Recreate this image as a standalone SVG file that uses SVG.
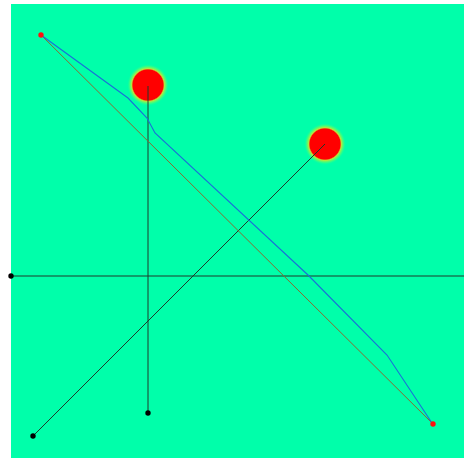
<svg xmlns="http://www.w3.org/2000/svg" width="464" height="460" viewBox="0 0 464 460">
<defs>
<radialGradient id="glow">
<stop offset="0" stop-color="#ff0000"/>
<stop offset="0.72" stop-color="#ff0000"/>
<stop offset="0.78" stop-color="#e8e020" stop-opacity="0.8"/>
<stop offset="0.88" stop-color="#80ff50" stop-opacity="0.45"/>
<stop offset="1" stop-color="#00ffaa" stop-opacity="0"/>
</radialGradient>
<style>
.ln{fill:none;stroke:#1e3a2a;stroke-width:1}
.dot{fill:#000}
.rdot{fill:#ff1010}
</style>
</defs>
<rect x="0" y="0" width="464" height="460" fill="#ffffff"/>
<rect x="11" y="4" width="453" height="454" fill="#00ffaa"/>
<g id="node-big1"><circle cx="148" cy="85" r="21" fill="url(#glow)"/></g>
<g id="node-big2"><circle cx="325" cy="144" r="21" fill="url(#glow)"/></g>
<g id="connectors">
<line class="ln" x1="11" y1="276" x2="464" y2="276"/>
<line class="ln" x1="148" y1="86" x2="148" y2="413"/>
<line class="ln" x1="325" y1="144" x2="33" y2="436"/>
<line x1="41" y1="35" x2="433" y2="424" stroke="#8a6a30" stroke-width="1"/>
<polyline points="41,35 128,98 147,118 155,133 308,275 387,355 432,423" fill="none" stroke="#1a70d8" stroke-width="1.1"/>
</g>
<g id="node-a"><circle class="rdot" cx="41" cy="35" r="2.7"/></g>
<g id="node-b"><circle class="rdot" cx="433" cy="424" r="2.7"/></g>
<g id="node-c"><circle class="dot" cx="11" cy="276" r="2.7"/></g>
<g id="node-d"><circle class="dot" cx="148" cy="413" r="2.7"/></g>
<g id="node-e"><circle class="dot" cx="33" cy="436" r="2.7"/></g>
</svg>
